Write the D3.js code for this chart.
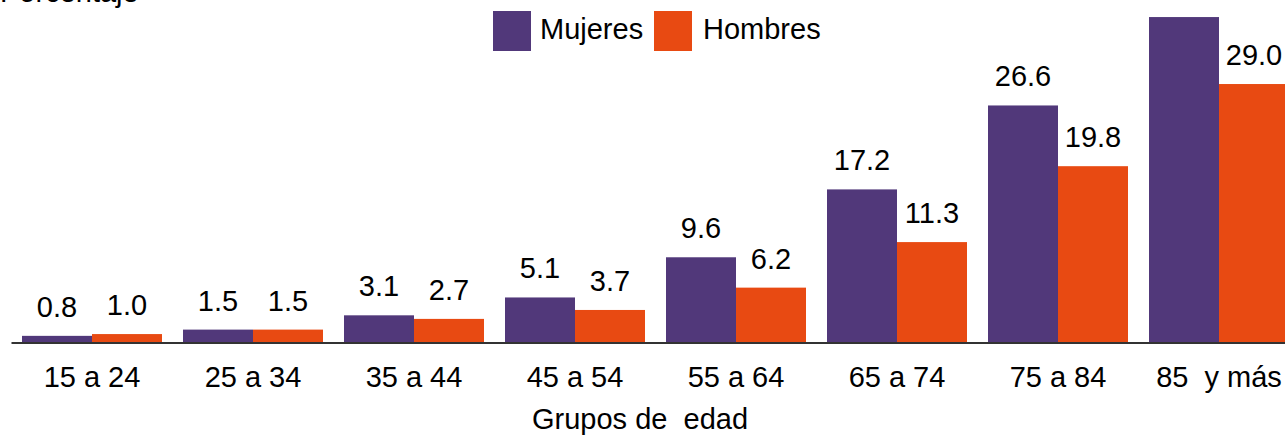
<!DOCTYPE html>
<html>
<head>
<meta charset="utf-8">
<script src="https://cdn.jsdelivr.net/npm/d3@7"></script>
<style>
  body { margin: 0; background: #fff; }
  svg { display: block; font-family: "Liberation Sans", Arial, sans-serif; }
</style>
</head>
<body>
<svg id="chart" width="1285" height="435"></svg>
<script>
// age groups and percentages
const grupos = ["15 a 24", "25 a 34", "35 a 44", "45 a 54", "55 a 64", "65 a 74", "75 a 84", "85  y más"];
const mujeres = [0.8, 1.5, 3.1, 5.1, 9.6, 17.2, 26.6, 36.5];
const hombres = [1.0, 1.5, 2.7, 3.7, 6.2, 11.3, 19.8, 29.0];
const series = ["Mujeres", "Hombres"];
const colores = ["#51387A", "#E84A12"];

const svg = d3.select('#chart');
const baseY = 343;
const fs = '29px';

// band for each group, then sub band for the two bars
let x0 = d3.scaleBand()
  .domain(grupos)
  .range([11.5, 11.5 + 161 * 8])
  .paddingInner(21 / 161)
  .paddingOuter(21 / 322);

let x1 = d3.scaleBand()
  .domain(series)
  .range([0, x0.bandwidth()]);

let y = d3.scaleLinear()
  .domain([0, 10])
  .range([baseY, baseY - 89.3]);

const color = d3.scaleOrdinal().domain(series).range(colores);

const rows = grupos.map((g, i) => ({ grupo: g, vals: [
  { s: "Mujeres", v: mujeres[i] },
  { s: "Hombres", v: hombres[i] }
]}));

const g = svg.selectAll('g.grupo')
  .data(rows)
  .enter().append('g')
  .attr('class', 'grupo')
  .attr('transform', d => `translate(${x0(d.grupo)},0)`);

g.selectAll('rect')
  .data(d => d.vals)
  .enter().append('rect')
  .attr('x', d => x1(d.s))
  .attr('y', d => y(d.v))
  .attr('width', x1.bandwidth())
  .attr('height', d => baseY - y(d.v))
  .attr('fill', d => color(d.s));

g.selectAll('text.val')
  .data(d => d.vals)
  .enter().append('text')
  .attr('class', 'val')
  .attr('x', d => x1(d.s) + x1.bandwidth() / 2)
  .attr('y', d => y(d.v) - 19)
  .attr('text-anchor', 'middle')
  .style('font-size', fs)
  .attr('fill', '#000')
  .text(d => d.v.toFixed(1));

// x axis
let xAxis = d3.axisBottom(x0).tickSize(0).tickPadding(0);
const ax = svg.append('g')
  .attr('transform', `translate(0, ${baseY})`)
  .call(xAxis);
ax.select('.domain').attr('stroke', '#333').attr('stroke-width', 2)
  .attr('d', `M11.5,0H${11.5 + 161 * 8}`);
ax.selectAll('.tick text')
  .attr('y', 44)
  .attr('dy', null)
  .style('font-size', fs)
  .style('font-family', '"Liberation Sans", Arial, sans-serif')
  .style('white-space', 'pre')
  .attr('fill', '#000');

// axis titles
svg.append('text')
  .attr('x', 640)
  .attr('y', 429)
  .attr('text-anchor', 'middle')
  .style('font-size', fs)
  .style('white-space', 'pre')
  .text('Grupos de  edad');

svg.append('text')
  .attr('x', 0)
  .attr('y', 2)
  .style('font-size', fs)
  .text('Porcentaje');

// legend
const legend = [
  { s: "Mujeres", x: 493, tx: 540 },
  { s: "Hombres", x: 654, tx: 703 }
];
const lg = svg.selectAll('g.leg').data(legend).enter().append('g').attr('class', 'leg');
lg.append('rect')
  .attr('x', d => d.x)
  .attr('y', 11)
  .attr('width', 38)
  .attr('height', 40)
  .attr('fill', d => color(d.s));
lg.append('text')
  .attr('x', d => d.tx)
  .attr('y', 39)
  .style('font-size', fs)
  .text(d => d.s);
</script>
</body>
</html>
